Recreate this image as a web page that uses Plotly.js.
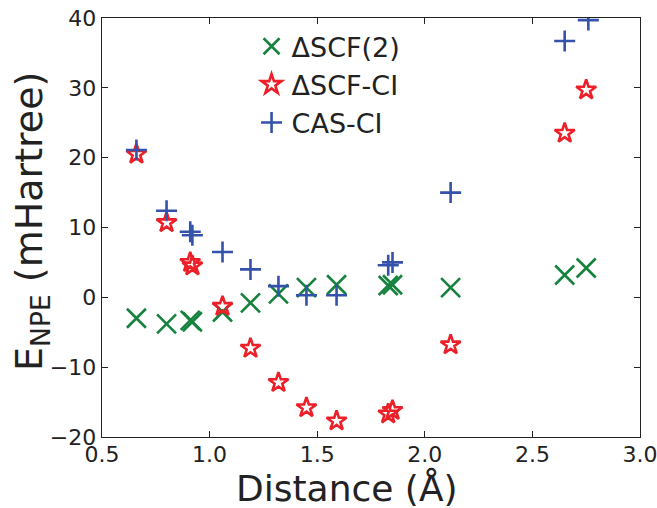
<!DOCTYPE html>
<html>
<head>
<meta charset="utf-8">
<script src="https://cdn.plot.ly/plotly-3.0.1.min.js"></script>
<style>html,body{margin:0;padding:0;background:#fff;}#chart{width:657px;height:508px;}</style>
</head>
<body>
<div id="chart"></div>
<script>
// Distances (Å)
const xScf2 = [0.66, 0.80, 0.91, 0.92, 1.06, 1.19, 1.32, 1.45, 1.59, 1.83, 1.85, 2.12, 2.65, 2.75];
const yScf2 = [-3.0, -3.8, -3.3, -3.5, -2.1, -0.8, 0.5, 1.4, 1.8, 1.7, 1.8, 1.4, 3.2, 4.2];

const xScfCI = [0.66, 0.80, 0.91, 0.92, 1.06, 1.19, 1.32, 1.45, 1.59, 1.83, 1.85, 2.12, 2.65, 2.75];
const yScfCI = [20.5, 10.7, 5.0, 4.5, -1.3, -7.3, -12.2, -15.8, -17.7, -16.7, -16.2, -6.8, 23.5, 29.7];

const xCasCI = [0.66, 0.80, 0.91, 0.92, 1.06, 1.19, 1.32, 1.45, 1.59, 1.83, 1.85, 2.12, 2.65, 2.76];
const yCasCI = [21.1, 12.4, 9.4, 8.9, 6.5, 4.0, 1.6, 0.3, 0.3, 4.6, 5.0, 15.0, 36.7, 39.7];

const seriesNames = ['\u0394SCF(2)', '\u0394SCF-CI', 'CAS-CI'];
const xTicks = [0.5, 1.0, 1.5, 2.0, 2.5, 3.0];
const xTickText = ['0.5', '1.0', '1.5', '2.0', '2.5', '3.0'];
const yTicks = [-20, -10, 0, 10, 20, 30, 40];
const xTitle = 'Distance (\u00c5)';
const yTitle = 'E<sub>NPE</sub> (mHartree)';

const FONT = 'DejaVu Sans, sans-serif';
const green = 'rgb(22,130,62)';
const red = 'rgb(236,32,40)';
const blue = 'rgb(52,82,170)';

const traces = [
  {x: xScf2, y: yScf2, name: seriesNames[0], type: 'scatter', mode: 'markers', legendgroup: 'a',
   marker: {symbol: 'x-thin-open', size: 19, color: green, line: {color: green, width: 2.6}}},
  {x: xScfCI, y: yScfCI, name: seriesNames[1], type: 'scatter', mode: 'markers', legendgroup: 'b',
   marker: {symbol: 'star-open', size: 15, color: red, line: {color: red, width: 2.6}}},
  {x: xCasCI, y: yCasCI, name: seriesNames[2], type: 'scatter', mode: 'markers', legendgroup: 'c',
   marker: {symbol: 'cross-thin-open', size: 15, color: blue, line: {color: blue, width: 2.6}}}
];

const layout = {
  width: 657, height: 508,
  margin: {l: 102, r: 17, t: 18, b: 71},
  paper_bgcolor: '#fff', plot_bgcolor: '#fff',
  font: {family: FONT, color: '#222', size: 22},
  showlegend: true,
  legend: {x: 0.278, y: 0.99, xanchor: 'left', yanchor: 'top', bgcolor: 'rgba(0,0,0,0)',
           font: {family: FONT, size: 27, color: '#222'}, traceorder: 'grouped', tracegroupgap: 0,
           itemwidth: 30},
  xaxis: {range: [0.5, 3.0], tickvals: xTicks, ticktext: xTickText, ticks: 'inside', ticklen: 6,
          tickcolor: '#222', showline: true, linecolor: '#222', linewidth: 1.3, mirror: 'ticks',
          showgrid: false, zeroline: false, ticklabeloverflow: 'allow', ticklabelstandoff: -3,
          tickfont: {size: 22, family: FONT, color: '#222'}},
  yaxis: {range: [-20, 40], tickvals: yTicks, ticks: 'inside', ticklen: 6,
          tickcolor: '#222', showline: true, linecolor: '#222', linewidth: 1.3, mirror: 'ticks',
          showgrid: false, zeroline: false, ticklabeloverflow: 'allow',
          tickfont: {size: 22, family: FONT, color: '#222'}},
  annotations: [
    {text: xTitle, xref: 'paper', yref: 'paper', x: (347 - 102) / 538, y: (437 - 487.5) / 419,
     xanchor: 'center', yanchor: 'middle', showarrow: false, borderpad: 0,
     font: {size: 36, family: FONT, color: '#222'}},
    {text: yTitle, xref: 'paper', yref: 'paper', x: (31 - 102) / 538, y: (437 - 222) / 419,
     xanchor: 'center', yanchor: 'middle', showarrow: false, textangle: -90, borderpad: 0,
     font: {size: 38, family: FONT, color: '#222'}}
  ]
};

Plotly.newPlot('chart', traces, layout, {displayModeBar: false, staticPlot: true});
</script>
</body>
</html>
